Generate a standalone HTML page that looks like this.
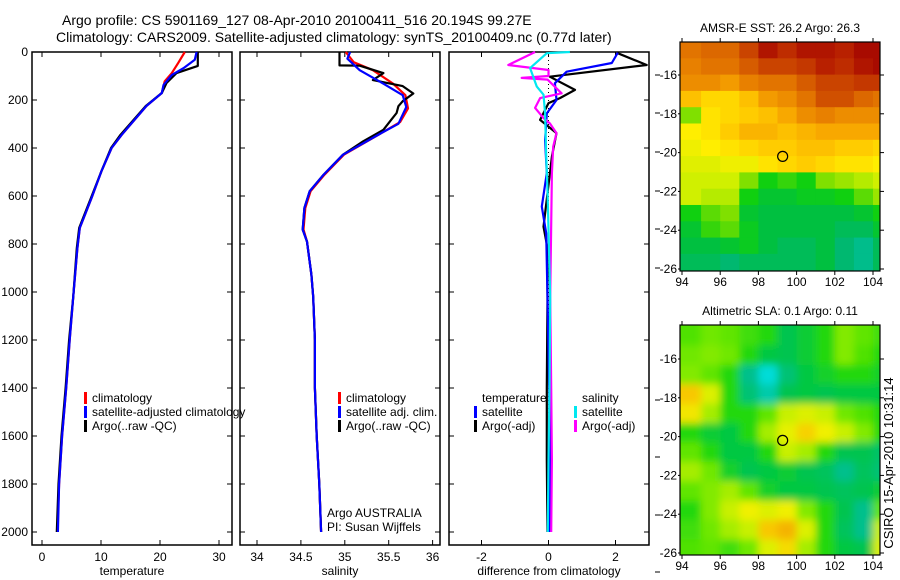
<!DOCTYPE html>
<html><head><meta charset="utf-8"><style>
body{margin:0;background:#fff;}
svg{display:block;font-family:"Liberation Sans",sans-serif;}
</style></head><body>
<svg id="fig" width="900" height="580" viewBox="0 0 900 580" xmlns="http://www.w3.org/2000/svg">
<text x="62" y="25" font-size="14">Argo profile: CS 5901169_127 08-Apr-2010 20100411_516 20.194S 99.27E</text>
<text x="56" y="42" font-size="14">Climatology: CARS2009. Satellite-adjusted climatology: synTS_20100409.nc (0.77d later)</text>
<g id="panels"></g>
<g id="maps"></g>
<text transform="translate(893,463) rotate(-90)" text-anchor="middle" font-size="13">CSIRO 15-Apr-2010 10:31:14</text>
</svg>
<script>
// ---------- profile data ----------
const tempClimDepth=[0,45,88,122,171,225,345,400,495,608,733,817,1017,1200,1400,1600,1800,2000];
const tempClim=[24.2,23.1,22.0,20.8,20.3,17.7,13.5,11.8,10.1,8.4,6.4,6.0,5.3,4.7,4.1,3.4,2.9,2.6];
const tempSatDepth=[0,32,67,96,138,171,225,345,400,495,608,733,817,1017,1200,1400,1600,1800,2000];
const tempSat=[26.2,25.9,24.0,22.0,20.6,20.3,17.7,13.5,11.8,10.1,8.4,6.4,6.0,5.3,4.7,4.1,3.4,2.9,2.7];
const tempArgoDepth=[0,58,88,129,171,225,345,400,495,608,733,817,1017,1200,1400,1600,1800,2000];
const tempArgo=[26.4,26.4,22.8,21.1,20.3,17.6,13.3,11.7,10.1,8.3,6.3,5.9,5.3,4.6,4.0,3.3,2.8,2.5];

const salClimDepth=[0,42,76,132,180,235,292,333,428,511,580,650,740,790,928,1020,1200,1400,1600,1800,2000];
const salClim=[35.01,35.10,35.32,35.55,35.69,35.72,35.63,35.44,34.99,34.77,34.61,34.55,34.53,34.57,34.62,34.64,34.66,34.66,34.68,34.71,34.73];
const salSatDepth=[0,28,76,132,180,229,299,333,428,511,580,650,740,790,928,1020,1200,1400,1600,1800,2000];
const salSat=[35.06,35.03,35.17,35.44,35.66,35.70,35.61,35.44,34.98,34.76,34.60,34.54,34.52,34.57,34.62,34.64,34.66,34.66,34.68,34.71,34.73];
const salArgoDepth=[0,56,57,88,117,142,173,205,226,254,282,324,372,428,511,580,650,740,790,928,1020,1200,1400,1600,1800,2000];
const salArgo=[34.94,34.94,35.17,35.44,35.32,35.66,35.78,35.66,35.61,35.59,35.53,35.44,35.21,34.98,34.76,34.60,34.54,34.52,34.57,34.62,34.64,34.66,34.66,34.68,34.71,34.73];

const dTempArgoDepth=[3,54,103,158,192,213,283,338,436,728,810,1020,1400,1700,2000];
const dTempArgo=[2.03,2.93,0.04,0.79,0.34,0.0,-0.25,0.24,0.10,-0.15,-0.04,-0.03,-0.05,-0.05,-0.03];
const dTempSatDepth=[3,46,82,130,200,256,367,505,644,755,1020,1400,1700,2000];
const dTempSat=[2.07,1.89,0.54,0.19,0.24,-0.05,-0.10,-0.05,-0.20,-0.07,-0.03,0.02,0.05,0.03];
const dSalArgoDepth=[0,54,75,100,108,115,172,192,233,275,297,338,394,505,1020,1400,1700,2000];
const dSalArgo=[-0.4,-1.2,0.0,0.0,-0.8,-0.03,0.39,-0.25,-0.4,-0.15,0.04,0.24,0.14,0.10,0.05,0.08,0.10,0.08];
const dSalSatDepth=[0,5,67,144,178,256,436,575,1020,1400,1700,2000];
const dSalSat=[0.64,-0.05,-0.55,-0.35,-0.15,-0.10,-0.07,-0.03,0.05,0.03,0.0,-0.02];

const depthTicks=[0,200,400,600,800,1000,1200,1400,1600,1800,2000];
const tempTicks=[0,10,20,30];
const salTicks=[34,34.5,35,35.5,36];
const diffTicks=[-2,0,2];

// ---------- map data ----------
const sstLonEdges=[94,95,96,97,98,99,100,101,102,103,104,105];
const sstLatEdges=[-14.3,-15.14,-15.98,-16.82,-17.66,-18.5,-19.34,-20.18,-21.02,-21.86,-22.7,-23.54,-24.38,-25.22,-26.1];
const sstRows=[
[27.2,27.3,27.3,27.6,28.0,27.8,28.0,28.0,27.9,28.1,28.1],
[27.1,27.2,27.2,27.4,27.6,27.6,27.7,27.9,27.8,28.0,28.1],
[27.0,27.0,26.9,27.1,27.2,27.2,27.4,27.6,27.6,27.7,27.7],
[26.6,26.4,26.4,26.6,26.9,27.0,27.2,27.5,27.5,27.3,27.2],
[25.6,26.3,26.4,26.5,26.6,26.8,27.0,27.1,27.0,27.0,27.0],
[26.2,26.3,26.5,26.7,26.7,26.6,26.7,26.8,26.8,26.8,26.8],
[26.1,26.2,26.3,26.4,26.5,26.5,26.6,26.6,26.5,26.5,26.4],
[26.0,26.0,26.1,26.1,26.3,26.4,26.5,26.4,26.3,26.3,26.2],
[25.9,25.9,25.9,25.6,25.3,25.4,25.3,25.6,25.7,25.8,25.9],
[25.9,25.8,25.8,25.3,25.1,25.1,25.2,25.2,25.3,25.5,25.7],
[25.3,25.5,25.6,25.1,25.0,25.0,25.0,25.0,25.0,25.1,25.3],
[25.1,25.4,25.5,25.2,25.0,25.0,25.0,25.0,24.9,24.9,25.1],
[25.0,25.0,25.1,25.2,25.0,24.9,24.9,25.0,24.8,24.7,24.9],
[24.9,24.9,24.8,24.9,24.9,24.9,24.9,25.0,24.8,24.7,24.9]];
const slaLonEdges=[94,95,96,97,98,99,100,101,102,103,104,105];
const slaLatEdges=[-14.3,-15.3,-16.3,-17.3,-18.3,-19.3,-20.3,-21.3,-22.3,-23.3,-24.3,-25.3,-26.3];
const slaRows=[
[0.03,0.05,0.04,0.02,0.0,-0.05,-0.03,0.0,0.06,0.04,0.02],
[0.05,0.06,0.05,0.0,-0.04,-0.05,-0.03,0.0,0.06,0.03,0.0],
[0.06,0.04,0.0,-0.1,-0.16,-0.08,-0.04,-0.02,0.0,0.0,-0.02],
[0.18,0.12,0.0,-0.08,-0.12,-0.05,-0.04,-0.05,-0.04,-0.04,-0.04],
[0.15,0.08,0.0,0.0,0.04,0.10,0.12,0.10,0.05,0.03,0.0],
[0.0,-0.03,-0.04,0.0,0.08,0.13,0.17,0.14,0.10,0.06,0.0],
[0.04,0.0,-0.04,-0.04,0.0,0.10,0.08,0.0,-0.05,-0.05,-0.07],
[0.08,0.05,-0.02,-0.05,-0.04,-0.03,-0.05,-0.06,-0.10,-0.06,-0.08],
[0.04,0.06,0.08,0.04,-0.02,-0.04,-0.04,-0.05,-0.06,-0.05,-0.03],
[0.0,0.06,0.10,0.14,0.12,0.14,0.06,0.0,-0.05,-0.10,0.04],
[0.02,0.05,0.08,0.10,0.18,0.20,0.12,0.0,-0.06,-0.10,0.10],
[0.03,0.04,0.02,0.05,0.12,0.16,0.08,0.0,-0.04,-0.05,0.12]];
const argoLon=99.27, argoLat=-20.194;
const mapLonTicks=[94,96,98,100,102,104];
const mapLatTicks=[-16,-18,-20,-22,-24,-26];

const NS='http://www.w3.org/2000/svg';
function mk(tag,attrs,parent,txt){const e=document.createElementNS(NS,tag);for(const k in attrs)e.setAttribute(k,attrs[k]);if(txt!==undefined)e.textContent=txt;parent.appendChild(e);return e;}

const panelsG=document.getElementById('panels');
const yTop=52,yBot=545,pxPerDbar=0.24;
const yD=d=>yTop+d*pxPerDbar;

function panel(name,x0,x1,xf,ticks,label,tickFmt,yLabels){
  const g=mk('g',{},panelsG);
  
  
  const fr=mk('rect',{x:x0,y:yTop,width:x1-x0,height:yBot-yTop,fill:'none',stroke:'#000','stroke-width':1.5},g);
  
  
  ticks.forEach(t=>{const x=xf(t);
    mk('line',{x1:x,y1:yTop,x2:x,y2:yTop+5,stroke:'#000'},g);
    mk('line',{x1:x,y1:yBot,x2:x,y2:yBot-5,stroke:'#000'},g);
    const tl=mk('text',{x:x,y:yBot+16,'text-anchor':'middle','font-size':12},g,tickFmt(t));
    
    
  });
  depthTicks.forEach(d=>{const y=yD(d);
    mk('line',{x1:x0,y1:y,x2:x0+5,y2:y,stroke:'#000'},g);
    mk('line',{x1:x1,y1:y,x2:x1-5,y2:y,stroke:'#000'},g);
    if(yLabels){const tl=mk('text',{x:x0-4,y:y+4,'text-anchor':'end','font-size':12},g,d);
      
      }
  });
  const xl=mk('text',{x:(x0+x1)/2,y:yBot+30,'text-anchor':'middle','font-size':12},g,label);
  
  
  return g;
}
function line(g,depths,vals,xf,color,name,w){
  const pts=depths.map((d,i)=>xf(vals[i]).toFixed(1)+','+yD(d).toFixed(1)).join(' ');
  const p=mk('polyline',{points:pts,fill:'none',stroke:color,'stroke-width':w||2.2,'stroke-linejoin':'round'},g);
  
  
}
function legend(g,x,y,color,text,name){
  if(color) mk('rect',{x:x,y:y-10,width:3,height:12,fill:color},g);
  const t=mk('text',{x:x+8,y:y,'font-size':12},g,text);
  
  
}

// temperature panel
const xT=v=>42+v*5.9;
const g1=panel('temperature',32,232,xT,tempTicks,'temperature',t=>t,true);
line(g1,tempClimDepth,tempClim,xT,'#ff0000','temperature-climatology-line');
line(g1,tempArgoDepth,tempArgo,xT,'#000000','temperature-argo-line');
line(g1,tempSatDepth,tempSat,xT,'#0000ff','temperature-satellite-line');
legend(g1,84,402,'#ff0000','climatology','legend-climatology');
legend(g1,84,416,'#0000ff','satellite-adjusted climatology','legend-satellite-adjusted');
legend(g1,84,430,'#000000','Argo(..raw -QC)','legend-argo-raw');

// salinity panel
const xS=v=>257+(v-34)*87.8;
const g2=panel('salinity',240,440,xS,salTicks,'salinity',t=>t,false);
line(g2,salClimDepth,salClim,xS,'#ff0000','salinity-climatology-line');
line(g2,salArgoDepth,salArgo,xS,'#000000','salinity-argo-line');
line(g2,salSatDepth,salSat,xS,'#0000ff','salinity-satellite-line');
legend(g2,338,402,'#ff0000','climatology','legend-sal-climatology');
legend(g2,338,416,'#0000ff','satellite adj. clim.','legend-sal-satellite');
legend(g2,338,430,'#000000','Argo(..raw -QC)','legend-sal-argo');
const a1=mk('text',{x:327,y:517,'font-size':12},g2,'Argo AUSTRALIA');

const a2=mk('text',{x:327,y:531,'font-size':12},g2,'PI: Susan Wijffels');


// difference panel
const xDf=v=>548.5+v*33.5;
const g3=panel('difference',449,649,xDf,diffTicks,'difference from climatology',t=>t,false);
mk('line',{x1:xDf(0),y1:yTop,x2:xDf(0),y2:yD(2000),stroke:'#000','stroke-dasharray':'1,3'},g3);
line(g3,dTempArgoDepth,dTempArgo,xDf,'#000000','diff-temperature-argo-line');
line(g3,dTempSatDepth,dTempSat,xDf,'#0000ff','diff-temperature-satellite-line');
line(g3,dSalArgoDepth,dSalArgo,xDf,'#ff00ff','diff-salinity-argo-line');
line(g3,dSalSatDepth,dSalSat,xDf,'#00e8f0','diff-salinity-satellite-line');
legend(g3,474,402,null,'temperature','legend-diff-temperature-header');
legend(g3,574,402,null,'salinity','legend-diff-salinity-header');
legend(g3,474,416,'#0000ff','satellite','legend-diff-temp-satellite');
legend(g3,474,430,'#000000','Argo(-adj)','legend-diff-temp-argo');
legend(g3,574,416,'#00e8f0','satellite','legend-diff-sal-satellite');
legend(g3,574,430,'#ff00ff','Argo(-adj)','legend-diff-sal-argo');
[75,113,152,191,229,268,400,457,515,572].forEach(y=>mk('line',{x1:655,y1:y,x2:660,y2:y,stroke:'#000'},panelsG));

// ---------- maps ----------
function lerpColor(stops,v){
  if(v<=stops[0][0])return stops[0][1];
  for(let i=1;i<stops.length;i++){if(v<=stops[i][0]){const a=stops[i-1],b=stops[i],f=(v-a[0])/(b[0]-a[0]);
    const ca=a[1],cb=b[1];return 'rgb('+[0,1,2].map(k=>Math.round(ca[k]+(cb[k]-ca[k])*f)).join(',')+')';}}
  const l=stops[stops.length-1][1];return 'rgb('+l.join(',')+')';
}
function toRGB(s){if(typeof s==='string')return s;return 'rgb('+s.join(',')+')';}
const sstStops=[[24.5,[0,200,192]],[24.8,[0,184,112]],[25.0,[0,192,64]],[25.3,[16,208,16]],[25.6,[128,224,0]],[25.9,[208,240,0]],[26.2,[255,238,0]],[26.5,[255,204,0]],[26.8,[248,168,0]],[27.1,[232,128,0]],[27.5,[208,80,0]],[27.9,[184,32,0]],[28.2,[160,0,0]]];
const slaStops=[[-0.15,[0,220,216]],[-0.1,[0,192,140]],[-0.05,[0,196,80]],[0,[32,216,16]],[0.05,[112,232,0]],[0.1,[200,240,0]],[0.14,[240,240,0]],[0.18,[248,200,0]],[0.22,[240,160,0]]];

function drawMap(name,title,fy0,fy1,latRef,rows,lonE,latE,stops,blur,labOff){
  const mg=mk('g',{},document.getElementById('maps'));
  
  
  const fx0=680,fx1=880;
  const xL=lon=>682+(lon-94)*19.1;
  const yL=lat=>latRef+(-16-lat)*19.4;
  const cid=name+'-clip';
  const defs=mk('defs',{},mg);
  const cp=mk('clipPath',{id:cid},defs);
  mk('rect',{x:fx0,y:fy0,width:fx1-fx0,height:fy1-fy0},cp);
  if(blur){const f=mk('filter',{id:name+'-blur',x:'-5%',y:'-5%',width:'110%',height:'110%'},defs);mk('feGaussianBlur',{stdDeviation:blur},f);}
  const outer=mk('g',{'clip-path':'url(#'+cid+')'},mg);
  mk('rect',{x:fx0,y:fy0,width:fx1-fx0,height:fy1-fy0,fill:toRGB(lerpColor(stops,0.0))},outer);
  const cg=mk('g',blur?{filter:'url(#'+name+'-blur)'}:{},outer);
  rows.forEach((row,r)=>row.forEach((v,c)=>{
    const x=xL(lonE[c]),x2=xL(lonE[c+1]),y=yL(latE[r]),y2=yL(latE[r+1]);
    const cell=mk('rect',{x:x-(c===0?10:0),y:y-(r===0?10:0),width:x2-x+(c===0?10:0)+(c===row.length-1?10:0)+0.5,height:y2-y+(r===0?10:0)+(r===rows.length-1?10:0)+0.5,fill:toRGB(lerpColor(stops,v))},cg);
    
    
  }));
  const circ=mk('circle',{cx:xL(argoLon),cy:yL(argoLat),r:5,fill:'none',stroke:'#000','stroke-width':1.2},mg);
  
  
  mk('rect',{x:fx0,y:fy0,width:fx1-fx0,height:fy1-fy0,fill:'none',stroke:'#000','stroke-width':1.2},mg);
  mapLonTicks.forEach(l=>{const x=xL(l);
    mk('line',{x1:x,y1:fy0,x2:x,y2:fy0-4,stroke:'#000'},mg);
    mk('line',{x1:x,y1:fy1,x2:x,y2:fy1+4,stroke:'#000'},mg);
    const t=mk('text',{x:x,y:fy1+labOff,'text-anchor':'middle','font-size':12},mg,l);
    
    
  });
  mapLatTicks.forEach(l=>{const y=yL(l);
    mk('line',{x1:fx1,y1:y,x2:fx1+4,y2:y,stroke:'#000'},mg);
    mk('line',{x1:fx0,y1:y,x2:fx0-2,y2:y,stroke:'#000'},mg);
    const t=mk('text',{x:fx0-3,y:y+4,'text-anchor':'end','font-size':12},mg,l);
    
    
  });
  const tt=mk('text',{x:780,y:fy0-10,'text-anchor':'middle','font-size':12},mg,title);
  
  
}
drawMap('sst-map','AMSR-E SST: 26.2 Argo: 26.3',42,271,75,sstRows,sstLonEdges,sstLatEdges,sstStops,0,15);
drawMap('sla-map','Altimetric SLA: 0.1 Argo: 0.11',325,555,359,slaRows,slaLonEdges,slaLatEdges,slaStops,4,15);
</script>
</body></html>
